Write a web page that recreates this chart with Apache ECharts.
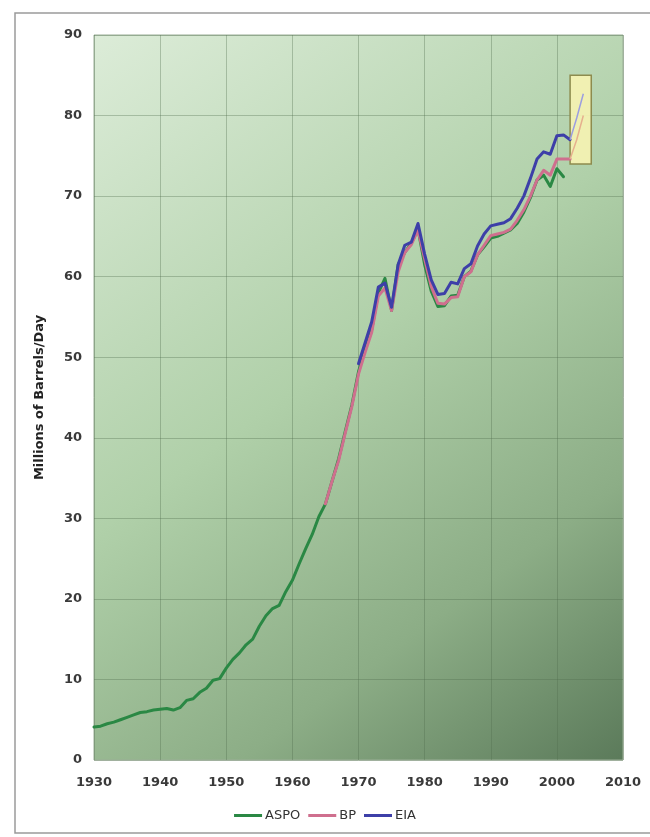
<!DOCTYPE html>
<html>
<head>
<meta charset="utf-8">
<script src="https://cdn.jsdelivr.net/npm/echarts@6/dist/echarts.min.js"></script>
<style>
  html, body { margin: 0; padding: 0; background: #fff; }
  #chart { width: 650px; height: 837px; }
</style>
</head>
<body>
<div id="chart"></div>
<script>
// world oil production, millions of barrels per day
const aspoStart = 1930;
const aspoValues = [
  4.1, 4.2, 4.5, 4.7, 5.0, 5.3, 5.6, 5.9, 6.0, 6.2,
  6.3, 6.4, 6.2, 6.5, 7.4, 7.6, 8.4, 8.9, 9.9, 10.1,
  11.4, 12.5, 13.3, 14.3, 15.0, 16.6, 17.9, 18.8, 19.2, 20.9,
  22.3, 24.3, 26.2, 28.0, 30.2, 31.8, 34.6, 37.4, 40.8, 44.1,
  48.2, 51.0, 53.4, 58.0, 59.8, 55.8, 61.5, 63.0, 64.2, 65.9,
  61.5, 58.2, 56.3, 56.4, 57.6, 57.7, 60.0, 60.7, 62.7, 63.7,
  64.8, 65.0, 65.4, 65.8, 66.6, 68.0, 69.8, 72.0, 72.6, 71.2,
  73.4, 72.4
];
const bpStart = 1965;
const bpValues = [
  31.8, 34.6, 37.2, 40.6, 43.9,
  47.9, 50.6, 53.1, 57.6, 58.6, 55.8, 60.6, 63.0, 64.0, 65.8,
  62.2, 58.8, 56.7, 56.6, 57.4, 57.5, 60.0, 60.6, 62.7, 63.9,
  65.1, 65.3, 65.5, 65.9, 67.0, 68.3, 70.0, 72.0, 73.2, 72.6,
  74.6, 74.6, 74.6
];
const bpProjStart = 2002;
const bpProjValues = [74.6, 77.0, 80.0];
const eiaStart = 1970;
const eiaValues = [
  49.2, 51.8, 54.4, 58.7, 59.2, 56.2, 61.5, 63.9, 64.3, 66.6,
  62.8, 59.6, 57.8, 57.9, 59.3, 59.1, 61.0, 61.6, 63.8, 65.3,
  66.3, 66.5, 66.7, 67.2, 68.5, 70.0, 72.2, 74.6, 75.5, 75.2,
  77.5, 77.6, 77.0
];
const eiaProjStart = 2002;
const eiaProjValues = [77.0, 79.7, 82.7];
// highlighted box: [x0, x1] years, [y0, y1] values
const boxYears = [2002, 2005.2];
const boxValues = [74, 85];

const seriesNames = ['ASPO', 'BP', 'EIA'];

function pairs(start, vals) {
  return vals.map((v, i) => [start + i, v]);
}

const chart = echarts.init(document.getElementById('chart'));

const lineStyleBase = { width: 3, cap: 'round', join: 'round' };
const gridLine = { show: true, lineStyle: { color: 'rgba(80,110,78,0.35)', width: 1 } };

chart.setOption({
  animation: false,
  textStyle: { fontFamily: 'DejaVu Sans' },
  graphic: [{
    type: 'rect',
    shape: { x: 15, y: 13, width: 700, height: 820 },
    style: { fill: 'none', stroke: '#9a9a9a', lineWidth: 1.5 },
    z: -10
  }],
  grid: {
    left: 94, right: 27, top: 35, bottom: 77,
    show: true,
    borderColor: '#9aae96',
    borderWidth: 1,
    backgroundColor: new echarts.graphic.LinearGradient(0, 0, 1, 1, [
      { offset: 0, color: '#dcecd8' },
      { offset: 0.45, color: '#b0d0a9' },
      { offset: 0.75, color: '#8cad86' },
      { offset: 1, color: '#5b7a5a' }
    ])
  },
  legend: {
    data: seriesNames,
    bottom: 10,
    left: 'center',
    icon: 'rect',
    itemWidth: 28,
    itemHeight: 3,
    itemGap: 8,
    textStyle: { fontSize: 13, color: '#333', padding: [0, 0, 0, -2] }
  },
  xAxis: {
    type: 'value',
    min: 1930, max: 2010, interval: 10,
    axisLine: { show: false },
    axisTick: { show: false },
    axisLabel: {
      fontSize: 13, fontWeight: 'bold', color: '#3a3a3a', margin: 16,
      formatter: v => String(v)
    },
    splitLine: gridLine
  },
  yAxis: {
    type: 'value',
    min: 0, max: 90, interval: 10,
    name: 'Millions of Barrels/Day',
    nameLocation: 'middle',
    nameGap: 48,
    nameTextStyle: { fontSize: 13, fontWeight: 'bold', color: '#222' },
    axisLine: { show: false },
    axisTick: { show: false },
    axisLabel: { fontSize: 13, fontWeight: 'bold', color: '#3a3a3a', margin: 12 },
    splitLine: gridLine
  },
  series: [
    {
      name: 'box', type: 'line', data: [], z: 1, silent: true,
      markArea: {
        silent: true,
        itemStyle: { color: 'rgba(245,242,178,0.92)', borderColor: '#8d8b4e', borderWidth: 1.5 },
        data: [[{ coord: [boxYears[0], boxValues[1]] }, { coord: [boxYears[1], boxValues[0]] }]]
      }
    },
    {
      name: 'ASPO', type: 'line', z: 3, showSymbol: false, symbol: 'none',
      data: pairs(aspoStart, aspoValues),
      itemStyle: { color: '#2a8844' },
      lineStyle: Object.assign({ color: '#2a8844' }, lineStyleBase)
    },
    {
      name: 'BP', type: 'line', z: 4, showSymbol: false, symbol: 'none',
      data: pairs(bpStart, bpValues),
      itemStyle: { color: '#cf6f8e' },
      lineStyle: Object.assign({ color: '#cf6f8e' }, lineStyleBase)
    },
    {
      name: 'EIA', type: 'line', z: 5, showSymbol: false, symbol: 'none',
      data: pairs(eiaStart, eiaValues),
      itemStyle: { color: '#3d3fa8' },
      lineStyle: Object.assign({ color: '#3d3fa8' }, lineStyleBase)
    },
    {
      name: 'BP', type: 'line', z: 4, showSymbol: false, symbol: 'none',
      data: pairs(bpProjStart, bpProjValues),
      lineStyle: { color: '#e6b08e', width: 1.5 }
    },
    {
      name: 'EIA', type: 'line', z: 5, showSymbol: false, symbol: 'none',
      data: pairs(eiaProjStart, eiaProjValues),
      lineStyle: { color: '#9c9ee0', width: 1.5 }
    }
  ]
});
</script>
</body>
</html>
